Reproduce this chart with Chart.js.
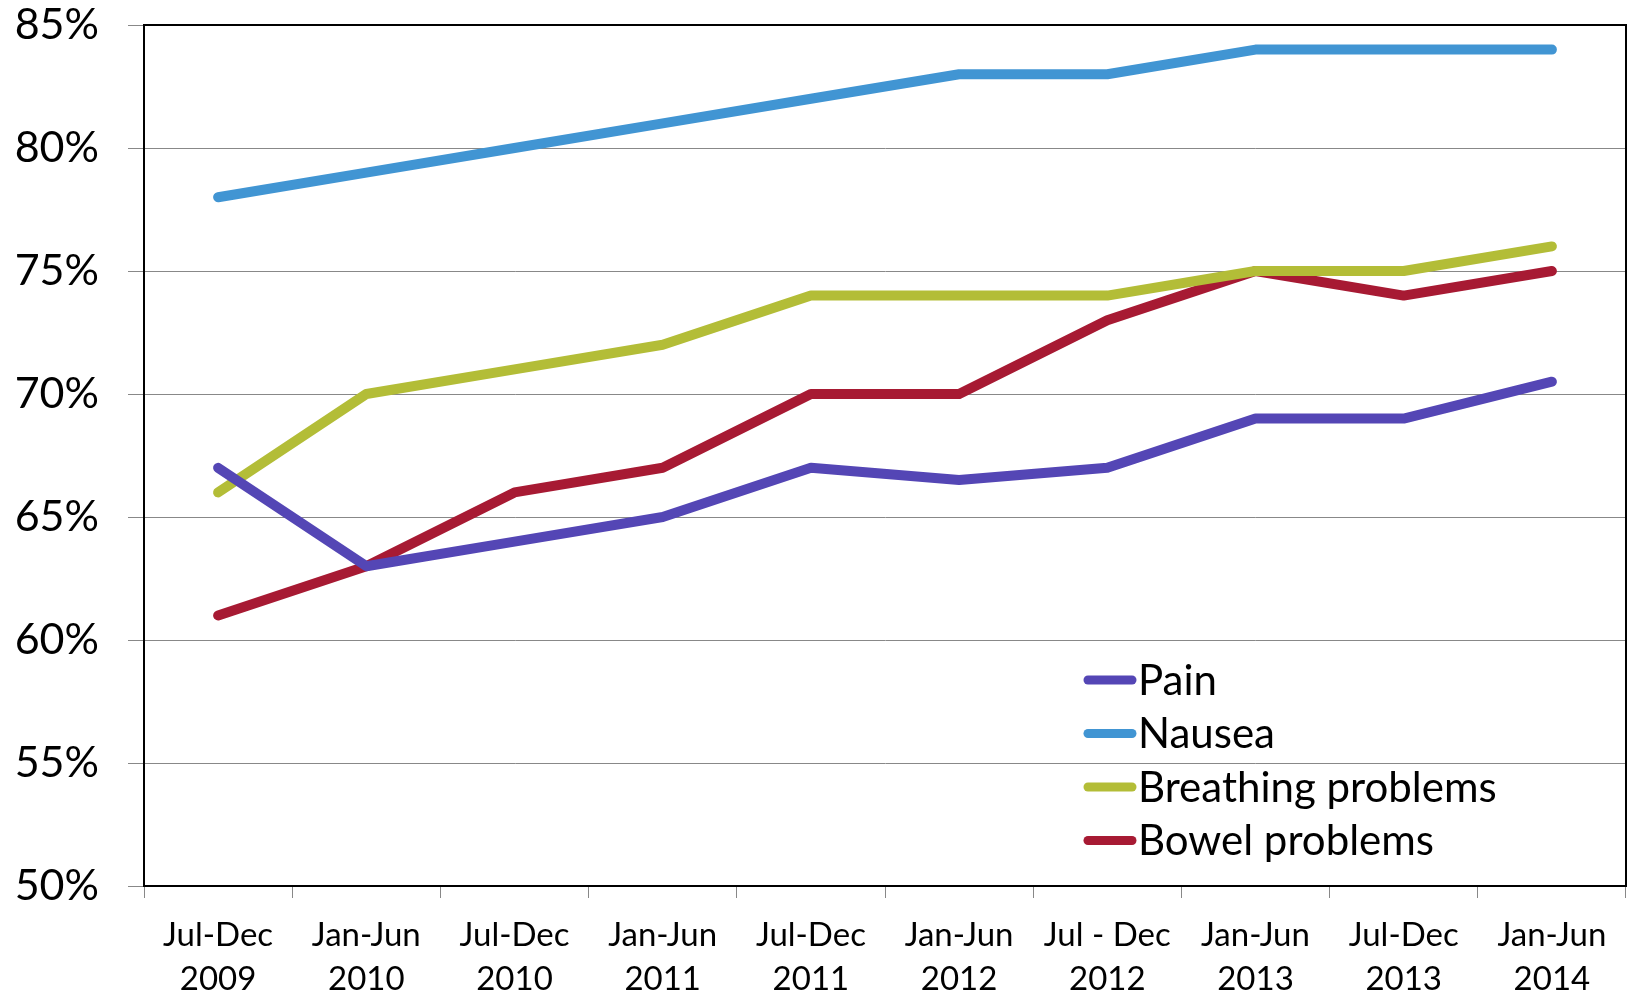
<!DOCTYPE html>
<html>
<head>
<meta charset="utf-8">
<script src="https://cdn.jsdelivr.net/npm/chart.js@4.4.1/dist/chart.umd.min.js"></script>
<style>
  html, body { margin: 0; padding: 0; background: #fff; }
  #wrap { width: 1628px; height: 993px; }
</style>
</head>
<body>
<div id="wrap"><canvas id="grafico"></canvas></div>
<script>
var periodos = [
  ["Jul-Dec", "2009"], ["Jan-Jun", "2010"], ["Jul-Dec", "2010"], ["Jan-Jun", "2011"],
  ["Jul-Dec", "2011"], ["Jan-Jun", "2012"], ["Jul - Dec", "2012"], ["Jan-Jun", "2013"],
  ["Jul-Dec", "2013"], ["Jan-Jun", "2014"]
];
var pain = [67, 63, 64, 65, 67, 66.5, 67, 69, 69, 70.5];
var nausea = [78, 79, 80, 81, 82, 83, 83, 84, 84, 84];
var breathing = [66, 70, 71, 72, 74, 74, 74, 75, 75, 76];
var bowel = [61, 63, 66, 67, 70, 70, 73, 75, 74, 75];
var nomes = ["Pain", "Nausea", "Breathing problems", "Bowel problems"];
var cores = ["#5446B5", "#4195D3", "#B3BD37", "#A71A33"];

var fonte = "Lato, 'Open Sans', sans-serif";

// moldura preta + legenda desenhada dentro do grafico
var molduraLegenda = {
  id: "molduraLegenda",
  afterDraw: function(chart) {
    var ctx = chart.ctx;
    var a = chart.chartArea;
    ctx.save();
    ctx.strokeStyle = "#000";
    ctx.lineWidth = 2;
    ctx.strokeRect(a.left, a.top, a.right - a.left, a.bottom - a.top);

    var x0 = 1088, y0 = 680, passo = 53.5;
    ctx.font = "42px " + fonte;
    ctx.textBaseline = "middle";
    ctx.lineCap = "round";
    chart.data.datasets.forEach(function(ds, i) {
      var y = y0 + i * passo;
      ctx.strokeStyle = ds.borderColor;
      ctx.lineWidth = 9;
      ctx.beginPath();
      ctx.moveTo(x0, y);
      ctx.lineTo(x0 + 44, y);
      ctx.stroke();
      ctx.fillStyle = "#000";
      ctx.fillText(ds.label, x0 + 50, y + 1);
    });
    ctx.restore();
  }
};

var dados = [pain, nausea, breathing, bowel];
var ctx = document.getElementById("grafico").getContext("2d");
var meuGrafico = new Chart(ctx, {
  type: "line",
  data: {
    labels: periodos,
    datasets: dados.map(function(d, i) {
      return {
        label: nomes[i],
        data: d,
        borderColor: cores[i],
        backgroundColor: cores[i],
        borderWidth: 10,
        borderCapStyle: "round",
        borderJoinStyle: "round",
        pointRadius: 0,
        tension: 0,
        fill: false
      };
    })
  },
  options: {
    responsive: true,
    maintainAspectRatio: false,
    animation: false,
    layout: { padding: { top: 25, right: 2, left: 0, bottom: 0 } },
    plugins: {
      legend: { display: false },
      tooltip: { enabled: false }
    },
    scales: {
      x: {
        offset: true,
        grid: {
          offset: true,
          drawOnChartArea: false,
          color: "#888",
          tickLength: 12
        },
        border: { color: "#000", width: 2 },
        ticks: {
          color: "#000",
          padding: 15,
          maxRotation: 0,
          autoSkip: false,
          font: { family: fonte, size: 33, lineHeight: 1.35 }
        },
        afterFit: function(s) { s.height = 107; }
      },
      y: {
        min: 50,
        max: 85,
        grid: {
          color: "#888",
          lineWidth: 1,
          tickLength: 16
        },
        border: { color: "#000", width: 2 },
        ticks: {
          stepSize: 5,
          color: "#000",
          padding: 29,
          font: { family: fonte, size: 43 },
          callback: function(v) { return v + "%"; }
        },
        afterFit: function(s) {
          s.width = 144;
          s.paddingTop = 0;
          s.paddingBottom = 0;
        }
      }
    }
  },
  plugins: [molduraLegenda]
});
</script>
</body>
</html>
